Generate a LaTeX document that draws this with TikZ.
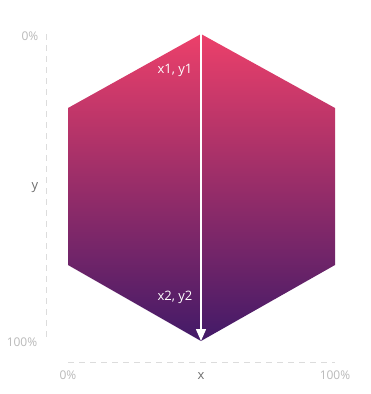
\documentclass[tikz,border=0pt]{standalone}
\usepackage{fontspec}
\setmainfont{Open Sans}
\usetikzlibrary{arrows.meta}
\definecolor{hextop}{RGB}{236,64,106}
\definecolor{hexbot}{RGB}{66,26,104}
\definecolor{axisgray}{RGB}{220,220,220}
\definecolor{pctgray}{RGB}{185,185,185}
\definecolor{lblgray}{RGB}{110,110,110}
\tikzset{
  guide/.style={draw=axisgray, line width=1pt, dash pattern=on 6pt off 5pt},
  pct/.style={text=pctgray, font=\fontsize{12}{14}\selectfont, inner sep=0pt},
  axlbl/.style={text=lblgray, font=\fontsize{13}{15}\selectfont, inner sep=0pt},
  ptlbl/.style={text=white, font=\fontsize{13}{15}\selectfont, inner sep=0pt},
}
\begin{document}
\begin{tikzpicture}[x=1pt,y=-1pt]
\useasboundingbox (0,0) rectangle (371,394);
\coordinate (t) at (201,34);
\coordinate (ul) at (68,108);
\coordinate (ll) at (68,265);
\coordinate (b) at (201,341);
\coordinate (lr) at (335,265);
\coordinate (ur) at (335,108);
\shade[top color=hextop, bottom color=hexbot] (t) -- (ul) -- (ll) -- (b) -- (lr) -- (ur) -- cycle;
\draw[white, line width=1.5pt, -{Triangle[width=10pt,length=12pt]}] (t) -- (b);
\node[ptlbl] (p1) at (175,70) {x1, y1};
\node[ptlbl] (p2) at (175,297) {x2, y2};
% axes
\coordinate (vy0) at (46,34);
\coordinate (vy1) at (46,341);
\draw[guide] (vy0) -- (vy1);
\coordinate (hx0) at (68,362);
\coordinate (hx1) at (335,362);
\draw[guide] (hx0) -- (hx1);
\node[pct] (y0) at (30,36) {0\%};
\node[axlbl] (yl) at (35,188) {y};
\node[pct] (y100) at (22,342) {100\%};
\node[pct] (x0) at (68,375) {0\%};
\node[axlbl] (xl) at (201,376) {x};
\node[pct] (x100) at (335,375) {100\%};
\end{tikzpicture}
\end{document}
